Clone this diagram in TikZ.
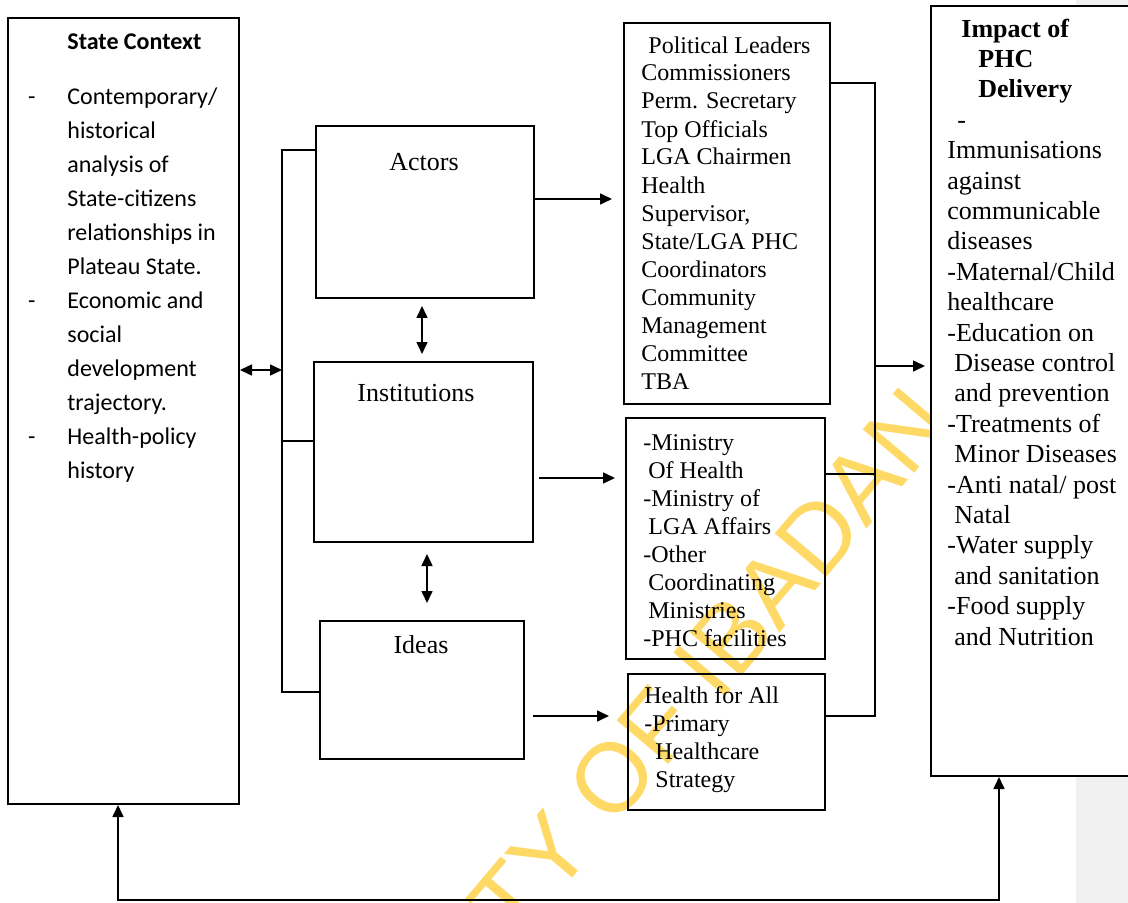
\documentclass[tikz,border=0pt]{standalone}
\usepackage{fontspec}
\setmainfont{Liberation Serif}
\newfontfamily\calibri{Carlito}
\newfontfamily\wmfont{Liberation Sans}
\usetikzlibrary{arrows.meta}
\definecolor{wmgold}{RGB}{255,217,102}
\definecolor{strip}{RGB}{240,240,240}
\newcommand{\indsp}[1]{\hspace*{#1}}
\begin{document}
\begin{tikzpicture}[x=0.5pt, y=-0.5pt,
    frame/.style={draw, line width=1pt, inner sep=0pt, anchor=north west},
    txt/.style={align=left, anchor=base west, inner sep=0pt, font=\fontsize{12}{14}\selectfont},
    lbl/.style={anchor=base, inner sep=0pt, font=\fontsize{13}{15}\selectfont},
    arr/.style={-{Triangle[length=6pt,width=5.5pt]}, line width=0.8pt},
    dbl/.style={{Triangle[length=6pt,width=5.5pt]}-{Triangle[length=6pt,width=5.5pt]}, line width=0.8pt},
    link/.style={line width=0.6pt}
]
\useasboundingbox (0,0) rectangle (1128,903);
\clip (0,0) rectangle (1128,903);
\fill[strip] (1076,0) rectangle (1128,903);
\node[wmgold, rotate=49.8, inner sep=0pt, font=\wmfont\fontsize{49}{49}\selectfont] (wmark) at (560,840) {UNIVERSITY OF IBADAN};

% left column (text nodes sit on their last baseline)
\node[frame, minimum width=115.5pt, minimum height=393pt] (ctx) at (7,17) {};
\node[txt, font=\calibri\fontsize{12}{17}\selectfont\bfseries] (ctxtitle) at (67,50) {State Context};
\node[txt, font=\calibri\fontsize{12}{17}\selectfont] (ctxlist) at (67,478) {%
\llap{-\hspace{16pt}}Contemporary/\\historical\\analysis of\\State-citizens\\relationships in\\Plateau State.\\
\llap{-\hspace{16pt}}Economic and\\social\\development\\trajectory.\\
\llap{-\hspace{16pt}}Health-policy\\history};

% middle column
\node[frame, minimum width=109pt, minimum height=86pt] (act) at (315,125) {};
\node[frame, minimum width=109.5pt, minimum height=90pt] (inst) at (313,361) {};
\node[frame, minimum width=102pt, minimum height=69pt] (ide) at (319,620) {};
\node[lbl] (actlbl) at (424,171) {Actors};
\node[lbl] (instlbl) at (416,401) {Institutions};
\node[lbl] (idelbl) at (421,653) {Ideas};

% lists
\node[frame, minimum width=103pt, minimum height=190.5pt] (actl) at (623,22) {};
\node[txt] (actltxt) at (641,389) {\indsp{3.5pt}Political Leaders\\Commissioners\\Perm. Secretary\\Top Officials\\LGA Chairmen\\Health\\Supervisor,\\State/LGA PHC\\Coordinators\\Community\\Management\\Committee\\TBA};
\node[frame, minimum width=99.5pt, minimum height=120.5pt] (instl) at (625,417) {};
\node[txt] (instltxt) at (643,646) {-Ministry\\\indsp{2.5pt}Of Health\\-Ministry of\\\indsp{2.5pt}LGA Affairs\\-Other\\\indsp{2.5pt}Coordinating\\\indsp{2.5pt}Ministries\\-PHC facilities};
\node[frame, minimum width=98.5pt, minimum height=68pt] (idel) at (627,673) {};
\node[txt] (ideltxt) at (644,787) {Health for All\\-Primary\\\indsp{5.5pt}Healthcare\\\indsp{5.5pt}Strategy};

% impact
\node[frame, fill=white, minimum width=105pt, minimum height=385pt] (imp) at (930,5) {};
\node[txt, font=\fontsize{13}{15.2}\selectfont] (imptxt) at (947,645) {%
\indsp{7pt}\textbf{Impact of}\\\indsp{15.5pt}\textbf{PHC}\\\indsp{15.5pt}\textbf{Delivery}\\\indsp{5pt}-\\
Immunisations\\against\\communicable\\diseases\\-Maternal/Child\\healthcare\\-Education on\\
\indsp{3.5pt}Disease control\\\indsp{3.5pt}and prevention\\-Treatments of\\\indsp{3.5pt}Minor Diseases\\
-Anti natal/ post\\\indsp{3.5pt}Natal\\-Water supply\\\indsp{3.5pt}and sanitation\\-Food supply\\\indsp{3.5pt}and Nutrition};

% bracket
\coordinate (bktop) at (282,150);
\coordinate (bkmid) at (282,370);
\coordinate (bkbot) at (282,692);
\draw[link, line width=0.75pt] (act.west |- bktop) -- (bktop) -- (bkbot) -- (ide.west |- bkbot);
\draw[link, line width=0.75pt] (bktop |- 0,441) -- (inst.west |- 0,441);
\draw[dbl] (ctx.east |- bkmid) -- (bkmid);
\draw[dbl, shorten <=3.5pt, shorten >=3.5pt] (act.south -| 422,0) -- (inst.north -| 422,0);
\draw[dbl, shorten <=5.5pt, shorten >=8.5pt] (inst.south -| 427,0) -- (ide.north -| 427,0);

% outputs
\draw[arr, shorten >=5.5pt] (act.east |- 0,199) -- (actl.west |- 0,199);
\draw[arr, shorten <=2.5pt, shorten >=5pt] (inst.east |- 0,478) -- (instl.west |- 0,478);
\draw[arr, shorten <=4pt, shorten >=9pt] (ide.east |- 0,716) -- (idel.west |- 0,716);

% collector
\coordinate (coltop) at (875,83);
\coordinate (colbot) at (875,716);
\draw[link] (actl.east |- coltop) -- (coltop) -- (colbot) -- (idel.east |- colbot);
\draw[link] (instl.east |- 0,474) -- (coltop |- 0,474);
\draw[arr, shorten >=2.5pt] (coltop |- 0,366) -- (imp.west |- 0,366);

% feedback
\coordinate (fbr) at (999,900);
\coordinate (fbl) at (118,900);
\draw[dbl] (imp.south -| fbr) -- (fbr) -- (fbl) -- (ctx.south -| fbl);
\end{tikzpicture}
\end{document}
